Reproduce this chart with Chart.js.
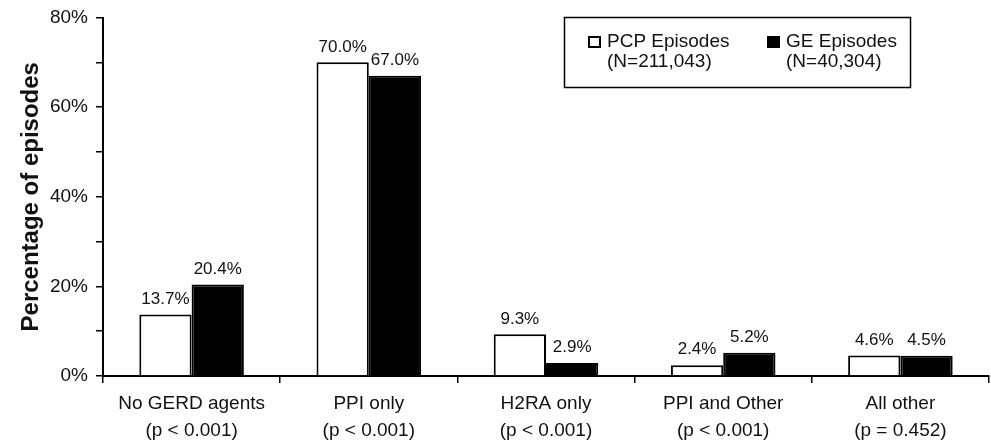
<!DOCTYPE html>
<html>
<head>
<meta charset="utf-8">
<script src="https://cdn.jsdelivr.net/npm/chart.js@4.4.1/dist/chart.umd.min.js"></script>
<style>
    html, body { margin: 0; padding: 0; background: #fff; }
    #wrap { width: 991px; height: 440px; position: relative; }
</style>
</head>
<body>
<div id="wrap"><canvas id="chart"></canvas></div>
<script>
// Dati
const categories = ['No GERD agents', 'PPI only', 'H2RA only', 'PPI and Other', 'All other'];
const pValues = ['(p < 0.001)', '(p < 0.001)', '(p < 0.001)', '(p < 0.001)', '(p = 0.452)'];
const pcpValues = [13.7, 70.0, 9.3, 2.4, 4.6];
const geValues = [20.4, 67.0, 2.9, 5.2, 4.5];
const seriesNames = ['PCP Episodes', 'GE Episodes'];
const seriesCounts = ['(N=211,043)', '(N=40,304)'];
const yTicks = [0, 20, 40, 60, 80];

const FONT = '"Liberation Sans", Arial, sans-serif';

// Etichette sopra le barre
const valueLabels = {
    id: 'valueLabels',
    afterDatasetsDraw(chart) {
        const ctx = chart.ctx;
        ctx.save();
        ctx.font = '17px ' + FONT;
        ctx.fillStyle = '#111';
        ctx.textAlign = 'center';
        ctx.textBaseline = 'bottom';
        chart.data.datasets.forEach((ds, i) => {
            chart.getDatasetMeta(i).data.forEach((bar, j) => {
                ctx.fillText(ds.data[j].toFixed(1) + '%', bar.x, bar.y - 7);
            });
        });
        ctx.restore();
    }
};

// Legenda disegnata a mano (testo su due righe dentro un riquadro)
const boxLegend = {
    id: 'boxLegend',
    afterDraw(chart) {
        const ctx = chart.ctx;
        ctx.save();
        ctx.lineWidth = 1.5;
        ctx.strokeStyle = '#000';
        ctx.strokeRect(564.5, 17.5, 346, 70);
        ctx.font = '19px ' + FONT;
        ctx.textBaseline = 'middle';
        ctx.textAlign = 'left';
        const items = [
            { x: 588, fill: '#fff', textX: 607, name: seriesNames[0], n: seriesCounts[0] },
            { x: 767, fill: '#000', textX: 786, name: seriesNames[1], n: seriesCounts[1] }
        ];
        items.forEach(it => {
            ctx.fillStyle = it.fill;
            ctx.fillRect(it.x, 36, 13, 12);
            ctx.lineWidth = 2;
            ctx.strokeRect(it.x + 1, 37, 11, 10);
            ctx.fillStyle = '#111';
            ctx.fillText(it.name, it.textX, 42);
            ctx.fillText(it.n, it.textX, 62);
        });
        ctx.restore();
    }
};

const ctx = document.getElementById('chart').getContext('2d');

new Chart(ctx, {
    type: 'bar',
    data: {
        labels: categories.map((c, i) => [c, pValues[i]]),
        datasets: [
            {
                label: seriesNames[0],
                data: pcpValues,
                backgroundColor: '#fff',
                borderColor: '#000',
                borderWidth: 2,
                borderSkipped: 'bottom'
            },
            {
                label: seriesNames[1],
                data: geValues,
                backgroundColor: '#000',
                borderColor: '#000',
                borderWidth: 2,
                borderSkipped: 'bottom'
            }
        ]
    },
    options: {
        responsive: true,
        maintainAspectRatio: false,
        animation: false,
        categoryPercentage: 0.59,
        barPercentage: 1.0,
        layout: { padding: { top: 17, right: 2, left: 0, bottom: 0 } },
        plugins: {
            legend: { display: false },
            tooltip: { enabled: false }
        },
        scales: {
            x: {
                grid: {
                    offset: true,
                    drawOnChartArea: false,
                    drawTicks: true,
                    tickLength: 7,
                    color: '#000',
                    lineWidth: 1.5
                },
                border: { color: '#000', width: 2 },
                ticks: {
                    color: '#111',
                    font: { family: FONT, size: 19, lineHeight: 1.42 },
                    padding: 7,
                    maxRotation: 0
                },
                afterFit(scale) { scale.height = 64; }
            },
            y: {
                min: 0,
                max: 80,
                grid: {
                    drawOnChartArea: false,
                    drawTicks: true,
                    tickLength: 7,
                    color: '#000',
                    lineWidth: 1.5
                },
                border: { color: '#000', width: 2 },
                ticks: {
                    stepSize: 10,
                    color: '#111',
                    font: { family: FONT, size: 19, lineHeight: 1.0 },
                    padding: 8,
                    callback: v => yTicks.includes(v) ? v + '%' : ''
                },
                title: {
                    display: true,
                    text: 'Percentage of episodes',
                    color: '#111',
                    font: { family: FONT, size: 24, weight: 'bold' },
                    padding: { top: 17, bottom: 0 }
                },
                afterFit(scale) { scale.width = 103; }
            }
        }
    },
    plugins: [valueLabels, boxLegend]
});
</script>
</body>
</html>
